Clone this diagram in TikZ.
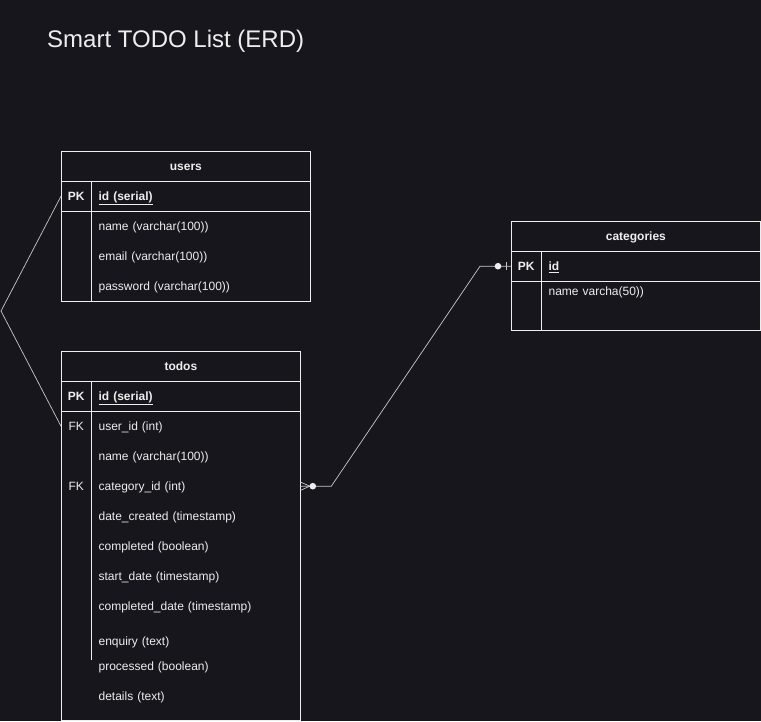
\documentclass[tikz,border=0pt]{standalone}
\usepackage{fontspec}
\setmainfont{Liberation Sans}
\usetikzlibrary{positioning}

\definecolor{bgcol}{RGB}{24,22,29}
\definecolor{fgcol}{RGB}{238,238,238}
\definecolor{lnkcol}{RGB}{200,200,200}

\begin{document}
\begin{tikzpicture}[x=1pt,y=1pt,node distance=30pt,
  tbl/.style={draw=fgcol,line width=0.8pt,anchor=north west,inner sep=0pt},
  hdr/.style={anchor=north,minimum height=30pt,inner sep=0pt,text height=10pt,text depth=2pt,text=fgcol,font=\bfseries\fontsize{12}{14}\selectfont},
  key/.style={anchor=north west,minimum width=30pt,minimum height=30pt,inner sep=0pt,text height=10pt,text depth=2pt,text=fgcol,font=\fontsize{12}{14}\selectfont},
  field/.style={text width=#1,minimum height=30pt,inner xsep=7pt,inner ysep=0pt,text height=10pt,text depth=2pt,align=left,text=fgcol,font=\fontsize{12}{14}\selectfont},
  rule/.style={draw=fgcol,line width=0.8pt},
  link/.style={draw=lnkcol,line width=0.7pt}]
 \fill[bgcol] (0,0) rectangle (761,-721);
 \useasboundingbox (0,0) rectangle (761,-721);

 \node[anchor=base west,inner sep=0pt,text=fgcol,font=\fontsize{24}{28}\selectfont] (title) at (47,-47.5) {Smart TODO List (ERD)};

 % users
 \node[tbl,minimum width=249pt,minimum height=150pt] (users) at (61,-151) {};
 \node[hdr] (users-hd) at (users.north) {users};
 \node[key] (users-pk) at ([yshift=-30pt]users.north west) {\textbf{PK}};
 \node[field=205pt] (users-id) [right=0pt of users-pk] {\textbf{\underline{id (serial)}}};
 \node[field=205pt] (users-name) [below of=users-id] {name (varchar(100))};
 \node[field=205pt] (users-email) [below of=users-name] {email (varchar(100))};
 \node[field=205pt] (users-pwd) [below of=users-email] {password (varchar(100))};
 \draw[rule] (users-pk.north west) -- (users-id.north east);
 \draw[rule] (users-pk.south west) -- (users-id.south east);
 \draw[rule] (users-pk.north east) -- (users-pk.north east |- users.south);

 % todos
 \node[tbl,minimum width=239pt,minimum height=369pt] (todos) at (61,-351) {};
 \node[hdr] (todos-hd) at (todos.north) {todos};
 \node[key] (todos-pk) at ([yshift=-30pt]todos.north west) {\textbf{PK}};
 \node[field=195pt] (todos-id) [right=0pt of todos-pk] {\textbf{\underline{id (serial)}}};
 \node[field=195pt] (todos-uid) [below of=todos-id] {user\_id (int)};
 \node[field=195pt] (todos-name) [below of=todos-uid] {name (varchar(100))};
 \node[field=195pt] (todos-cid) [below of=todos-name] {category\_id (int)};
 \node[field=195pt] (todos-created) [below of=todos-cid] {date\_created (timestamp)};
 \node[field=195pt] (todos-done) [below of=todos-created] {completed (boolean)};
 \node[field=195pt] (todos-start) [below of=todos-done] {start\_date (timestamp)};
 \node[field=195pt] (todos-donedate) [below of=todos-start] {completed\_date (timestamp)};
 \node[field=195pt] (todos-enq) [below of=todos-donedate,yshift=-5pt] {enquiry (text)};
 \node[field=195pt] (todos-proc) [below of=todos-enq,yshift=5pt] {processed (boolean)};
 \node[field=195pt] (todos-details) [below of=todos-proc] {details (text)};
 \node[key,anchor=east] (todos-fk1) at (todos-uid.west) {FK};
 \node[key,anchor=east] (todos-fk2) at (todos-cid.west) {FK};
 \draw[rule] (todos-pk.north west) -- (todos-id.north east);
 \draw[rule] (todos-pk.south west) -- (todos-id.south east);
 \draw[rule] (todos-pk.north east) -- ([yshift=-4pt]todos-enq.south west);

 % categories
 \node[tbl,minimum width=249pt,minimum height=109pt] (cats) at (511,-221) {};
 \node[hdr] (cats-hd) at (cats.north) {categories};
 \node[key] (cats-pk) at ([yshift=-30pt]cats.north west) {\textbf{PK}};
 \node[field=205pt] (cats-id) [right=0pt of cats-pk] {\textbf{\underline{id}}};
 \node[field=205pt] (cats-name) [below of=cats-id,yshift=5pt] {name varcha(50))};
 \draw[rule] (cats-pk.north west) -- (cats-id.north east);
 \draw[rule] (cats-pk.south west) -- (cats-id.south east);
 \draw[rule] (cats-pk.north east) -- (cats-pk.north east |- cats.south);

 % users -- todos
 \coordinate (apex) at (1,-311);
 \draw[link] (users-pk.west) -- (apex) -- (todos-fk1.west);

 % todos -- categories
 \draw[link] (todos-cid.east) -- ++(30.5,0) -- ([xshift=-31pt]cats-pk.west) -- (cats-pk.west);
 \draw[link] ([xshift=9pt]todos-cid.east) -- ([yshift=4pt]todos-cid.east);
 \draw[link] ([xshift=9pt]todos-cid.east) -- ([yshift=-4pt]todos-cid.east);
 \fill[fgcol] ([xshift=12pt]todos-cid.east) circle (3.3pt);
 \fill[fgcol] ([xshift=-13pt]cats-pk.west) circle (3.3pt);
 \draw[link] ([xshift=-4.5pt,yshift=4pt]cats-pk.west) -- ([xshift=-4.5pt,yshift=-4pt]cats-pk.west);
\end{tikzpicture}
\end{document}
